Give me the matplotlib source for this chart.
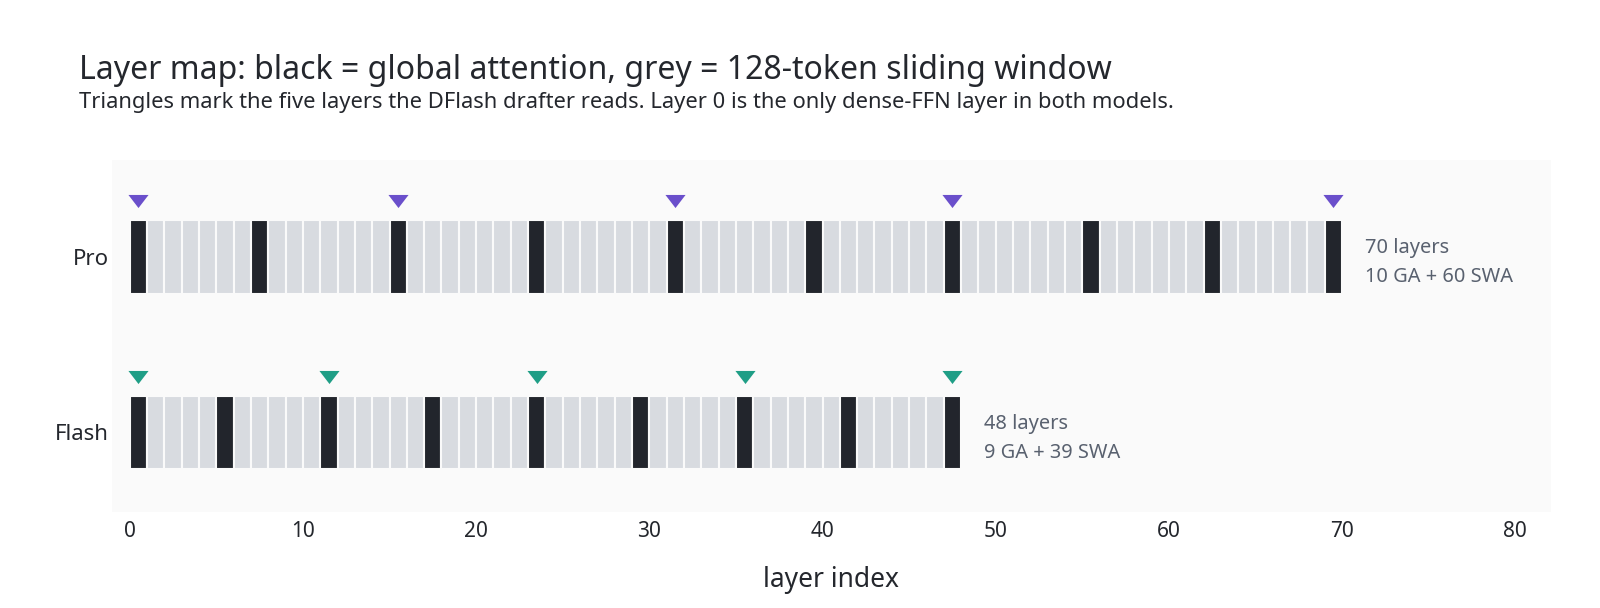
import matplotlib
matplotlib.use("Agg")
import matplotlib.pyplot as plt
from matplotlib.patches import Rectangle
from matplotlib.path import Path

plt.rcParams['font.family'] = ['Noto Sans', 'DejaVu Sans']

models = ["Pro", "Flash"]
n_layers = [70, 48]
global_layers = {
    "Pro": [0, 7, 15, 23, 31, 39, 47, 55, 62, 69],
    "Flash": [0, 5, 11, 17, 23, 29, 35, 41, 47],
}
drafter_layers = {
    "Pro": [0, 15, 31, 47, 69],
    "Flash": [0, 11, 23, 35, 47],
}
marker_colors = {"Pro": "#6a4fcb", "Flash": "#1f9e86"}
row_y = {"Pro": 1, "Flash": 0}
x_ticks = [0, 10, 20, 30, 40, 50, 60, 70, 80]

GA_COLOR = "#22252c"
SWA_COLOR = "#d8dbe0"
TEXT = "#24272d"

W, H = 1600, 608
fig = plt.figure(figsize=(W/100, H/100), dpi=100)
ax = fig.add_axes([111.7/W, 1 - 511.7/H, (1551-111.7)/W, (511.7-160)/H])
ax.set_facecolor("#fafafa")

tri = Path([(-1, 0.65), (1, 0.65), (0, -0.65), (-1, 0.65)],
           [Path.MOVETO, Path.LINETO, Path.LINETO, Path.CLOSEPOLY])

bar_h = 0.42
for m, n in zip(models, n_layers):
    y = row_y[m]
    for i in range(n):
        c = GA_COLOR if i in global_layers[m] else SWA_COLOR
        ax.add_patch(Rectangle((i, y - bar_h/2), 1, bar_h, facecolor=c,
                               edgecolor="#fafafa", linewidth=1.5))
    xs = [l + 0.5 for l in drafter_layers[m]]
    ax.scatter(xs, [y + 0.318]*len(xs), marker=tri, s=210,
               color=marker_colors[m], linewidths=0, zorder=3)
    n_ga = len(global_layers[m])
    ax.text(n + 1.3, y - 0.033, f"{n} layers\n{n_ga} GA + {n - n_ga} SWA",
            ha="left", va="center", fontsize=14.4, color="#59616f",
            linespacing=1.58)

ax.set_xlim(-1.04, 82.06)
ax.set_ylim(-0.4505, 1.55)
ax.set_xticks(x_ticks)
ax.set_xticklabels([str(t) for t in x_ticks])
ax.set_yticks([row_y[m] for m in models])
ax.set_yticklabels(models)
ax.tick_params(axis="x", length=0, labelsize=15, pad=7, labelcolor=TEXT)
ax.tick_params(axis="y", length=0, labelsize=16, pad=2, labelcolor=TEXT)
for s in ax.spines.values():
    s.set_visible(False)
ax.set_xlabel("layer index", fontsize=19, labelpad=17, color=TEXT)

fig.text(79/W, 1 - 79.3/H,
         "Layer map: black = global attention, grey = 128-token sliding window",
         fontsize=23.05, color=TEXT, ha="left", va="baseline")
fig.text(79/W, 1 - 107.7/H,
         "Triangles mark the five layers the DFlash drafter reads. Layer 0 is the only dense-FFN layer in both models.",
         fontsize=15.8, color=TEXT, ha="left", va="baseline")

fig.savefig("out.png", dpi=100, facecolor="white")
